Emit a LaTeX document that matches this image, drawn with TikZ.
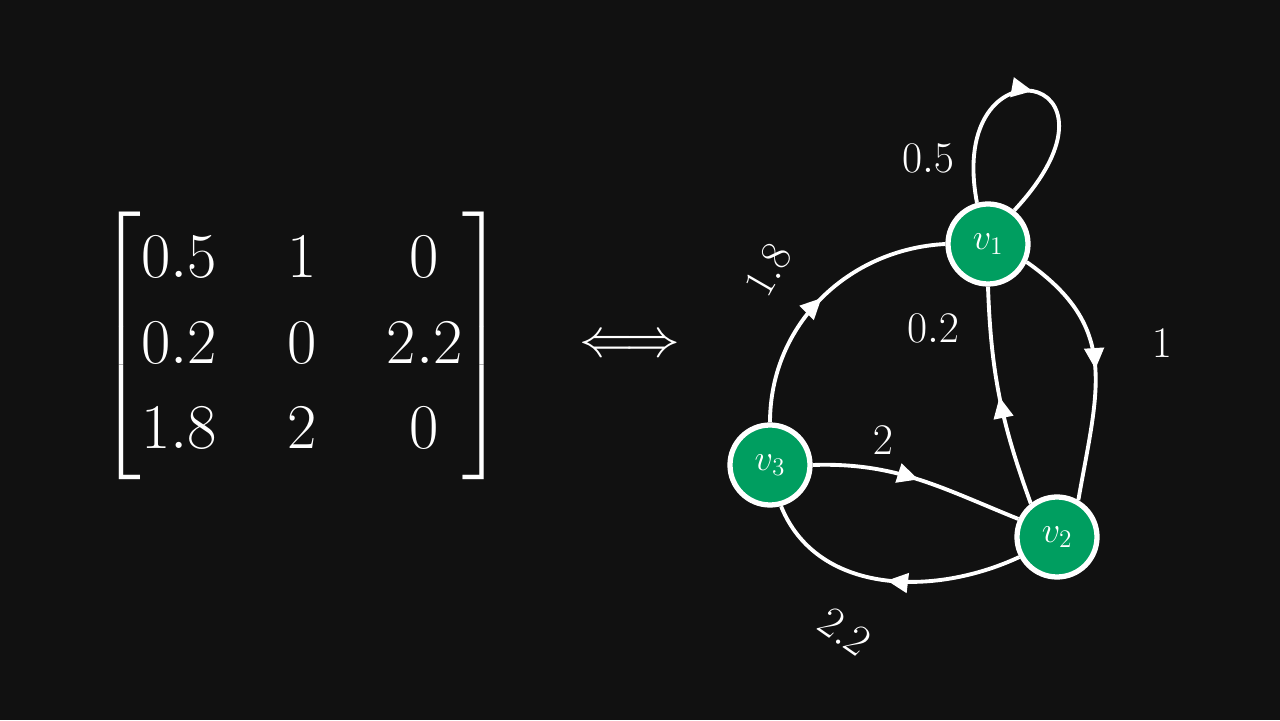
\documentclass[tikz,border=0pt]{standalone}
\usepackage{amsmath}
\usepackage{xcolor}
\usetikzlibrary{arrows.meta,positioning,decorations.markings}
\definecolor{bgdark}{HTML}{111111}
\definecolor{vgreen}{HTML}{009E60}
\tikzset{
  vert/.style={circle,draw=white,fill=vgreen,line width=3pt,minimum size=1.6cm,inner sep=0pt,text=white,font=\fontsize{20}{24}\selectfont},
  wedge/.style={white,line width=2.2pt,postaction={decorate},
    decoration={markings,mark=at position 0.5 with {\arrow{Triangle[length=12pt,width=11pt]}}}},
  wlabel/.style={text=white,font=\fontsize{24}{28}\selectfont}
}
\begin{document}
\begin{tikzpicture}
  % Background
  \fill[bgdark] (0,0) rectangle (25.6,14.4);
  \useasboundingbox (0,0) rectangle (25.6,14.4);

  % Matrix and equivalence arrow
  \node[text=white,font=\LARGE,scale=2.1] (mat) at (6.04,7.48)
    {\setlength\arraycolsep{0.55em}\renewcommand\arraystretch{1.05}$\begin{bmatrix} 0.5 & 1 & 0\\ 0.2 & 0 & 2.2\\ 1.8 & 2 & 0 \end{bmatrix}$};
  \node[text=white,font=\huge,scale=1.5] (eqv) at (12.6,7.48) {$\Longleftrightarrow$};

  % Vertices
  \node[vert] (v1) at (19.76,9.52) {$v_1$};
  \node[vert] (v3) at (15.4,5.1) {$v_3$};
  \node[vert] (v2) at (21.14,3.66) {$v_2$};

  % Edges
  \draw[wedge] (v1.105) .. controls (18.9,13.7) and (22.9,13.0) .. (v1.52);
  \draw[wedge] (v3.north) to[out=90,in=183] (v1.west);
  \draw[wedge] (v1.-25) to[out=-35,in=80,looseness=1.2] (v2.60);
  \draw[wedge] (v2.128) to[out=110,in=-88] (v1.south);
  \draw[wedge] (v3.east) to[out=2,in=158] (v2.155);
  \draw[wedge] (v2.208) to[out=205,in=-68] (v3.-75);

  % Weights
  \node[wlabel] (w11) at (18.56,11.24) {$0.5$};
  \node[wlabel,rotate=60] (w31) at (15.36,9.0) {$1.8$};
  \node[wlabel] (w12) at (23.24,7.54) {$1$};
  \node[wlabel] (w21) at (18.66,7.84) {$0.2$};
  \node[wlabel] (w32) at (17.66,5.6) {$2$};
  \node[wlabel,rotate=-35] (w23) at (16.9,1.76) {$2.2$};
\end{tikzpicture}
\end{document}
